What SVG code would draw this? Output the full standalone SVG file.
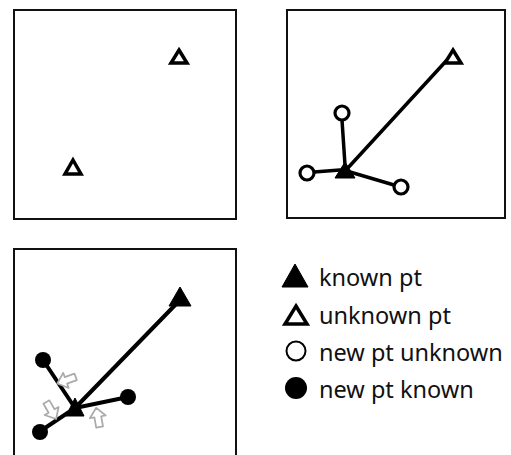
<svg xmlns="http://www.w3.org/2000/svg" width="511" height="455" viewBox="0 0 511 455">
<style>
.frame{fill:#fff;stroke:#111;stroke-width:2}
.edge{stroke:#000;stroke-width:3.5;stroke-linecap:round;fill:none}
.edge3{stroke:#000;stroke-width:4;stroke-linecap:round;fill:none}
.known{fill:#000;stroke:#000;stroke-width:1;stroke-linejoin:round}
.unknown{fill:#fff;stroke:#000;stroke-width:3.5;stroke-linejoin:miter}
.newunk{fill:#fff;stroke:#000;stroke-width:3.2}
.newkn{fill:#000}
.shift{fill:#fff;stroke:#aaa;stroke-width:1.5;stroke-linejoin:round}
.lbl{font-family:"Noto Sans","DejaVu Sans",sans-serif;font-size:23.5px;fill:#111}
</style>
<defs>
<path id="ga" d="M0,-9 L7,-1 L3,-1 L3,8 L-3,8 L-3,-1 L-7,-1 Z"/>
</defs>
<rect x="0" y="0" width="511" height="455" fill="#fff"/>

<g id="panel1">
<rect class="frame" x="14" y="10" width="222" height="209"/>
<g id="p1-unknown-a"><polygon class="unknown" points="179,50 187,63 171,63"/></g>
<g id="p1-unknown-b"><polygon class="unknown" points="73,160 81,174 65,174"/></g>
</g>

<g id="panel2">
<rect class="frame" x="287" y="10" width="218" height="208"/>
<g id="p2-connectors">
<line class="edge" x1="346" y1="170" x2="447" y2="60"/>
<line class="edge" x1="342" y1="120" x2="345" y2="165"/>
<line class="edge" x1="314" y1="172" x2="340" y2="170"/>
<line class="edge" x1="350" y1="172" x2="394" y2="185"/>
</g>
<g id="p2-known"><polygon class="known" points="345,162 355,178 335,178"/></g>
<g id="p2-unknown"><polygon class="unknown" points="453,50 461,63 445,63"/></g>
<g id="p2-new-top"><circle class="newunk" cx="342" cy="113" r="7"/></g>
<g id="p2-new-left"><circle class="newunk" cx="307" cy="173" r="7"/></g>
<g id="p2-new-right"><circle class="newunk" cx="401" cy="187" r="7"/></g>
</g>

<g id="panel3">
<rect class="frame" x="14" y="249" width="222" height="230"/>
<g id="p3-connectors">
<line class="edge3" x1="43" y1="360" x2="75" y2="408"/>
<line class="edge3" x1="39" y1="432" x2="75" y2="408"/>
<line class="edge3" x1="75" y1="408" x2="128" y2="397"/>
<line class="edge3" x1="75" y1="408" x2="180" y2="300"/>
</g>
<g id="p3-known-a"><polygon class="known" points="180,287 191,306 169,306"/></g>
<g id="p3-known-b"><polygon class="known" points="75,398 84,416 66,416"/></g>
<g id="p3-new-a"><circle class="newkn" cx="43" cy="360" r="8"/></g>
<g id="p3-new-b"><circle class="newkn" cx="128" cy="397" r="8"/></g>
<g id="p3-new-c"><circle class="newkn" cx="40" cy="432" r="8"/></g>
<g id="p3-shifts">
<use href="#ga" class="shift" transform="translate(67,380) rotate(-110) scale(1.15)"/>
<use href="#ga" class="shift" transform="translate(51,410) rotate(150) scale(1.15)"/>
<use href="#ga" class="shift" transform="translate(98,418) rotate(-10) scale(1.15)"/>
</g>
</g>

<g id="legend">
<g id="leg-known"><polygon class="known" points="295,264 308,287 282,287"/><text class="lbl" x="319" y="286">known pt</text></g>
<g id="leg-unknown"><polygon class="unknown" points="296,306 307,324 285,324"/><text class="lbl" x="319" y="324">unknown pt</text></g>
<g id="leg-newunk"><circle cx="296" cy="351" r="9.5" fill="#fff" stroke="#000" stroke-width="2"/><text class="lbl" x="319" y="361">new pt unknown</text></g>
<g id="leg-newkn"><circle class="newkn" cx="296" cy="388" r="11"/><text class="lbl" x="319" y="398">new pt known</text></g>
</g>
</svg>
